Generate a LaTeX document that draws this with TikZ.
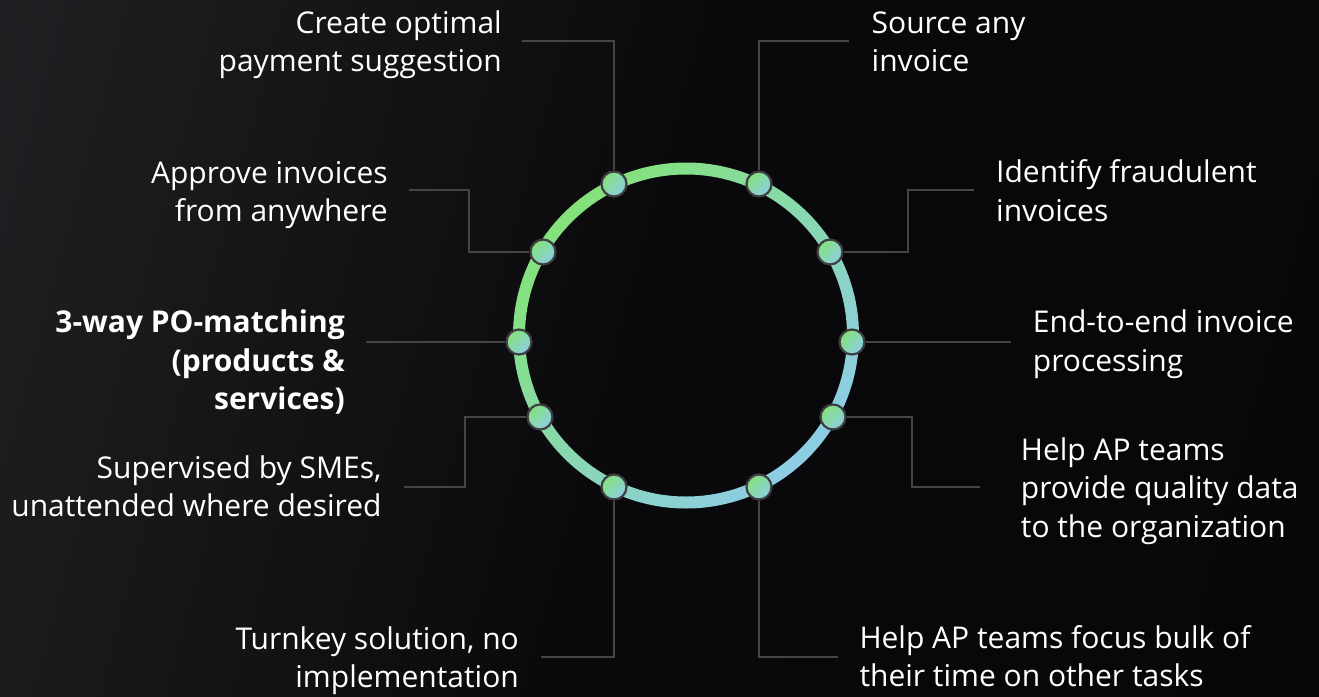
\documentclass[tikz,border=0pt]{standalone}
\usepackage{fontspec}
\setmainfont{Open Sans}
\definecolor{bgA}{HTML}{303034}
\definecolor{bgM}{HTML}{1C1C1F}
\definecolor{bgB}{HTML}{09090C}
\definecolor{bgC}{HTML}{060609}
\definecolor{ringG}{HTML}{84E27A}
\definecolor{ringB}{HTML}{8DCDE6}
\definecolor{conncol}{HTML}{454547}
\definecolor{dotborder}{HTML}{3E3E40}
\pgfdeclarehorizontalshading{bgshade}{100bp}{color(0bp)=(bgA); color(25bp)=(bgM); color(50bp)=(bgB); color(100bp)=(bgC)}
\tikzset{
  lbl/.style={text=white, inner sep=0pt, font=\fontsize{30}{38.5}\selectfont},
  lblL/.style={lbl, anchor=base east, align=right},
  lblR/.style={lbl, anchor=base west, align=left},
  conn/.style={draw=conncol, line width=2pt},
  ringdot/.style={circle, minimum size=25pt, inner sep=0pt, draw=dotborder, line width=2.2pt,
    top color=ringG, bottom color=ringB, shading angle=45},
}
\begin{document}
\begin{tikzpicture}[x=1pt,y=-1pt]
\useasboundingbox (0,0) rectangle (1319,696);
\shade[shading=bgshade, shading angle=-15] (0,0) rectangle (1319,696);

\coordinate (ctr) at (686,335.5);
\shade[even odd rule, top color=ringG, bottom color=ringB, shading angle=45]
  (ctr) circle (173) (ctr) circle (161);

% dots
\node[ringdot] (d1) at (614,184) {};
\node[ringdot] (d2) at (759,184) {};
\node[ringdot] (d3) at (543,252) {};
\node[ringdot] (d4) at (830,252) {};
\node[ringdot] (d5) at (519,342) {};
\node[ringdot] (d6) at (852,342) {};
\node[ringdot] (d7) at (540,417) {};
\node[ringdot] (d8) at (833,417) {};
\node[ringdot] (d9) at (614,487) {};
\node[ringdot] (d10) at (759,487) {};

% connector points
\coordinate (e1) at (522,41);
\coordinate (e2) at (849,41);
\coordinate (k3) at (469,190);
\coordinate (e3) at (409,190);
\coordinate (k4) at (908,190);
\coordinate (e4) at (974,190);
\coordinate (e5) at (366,342);
\coordinate (e6) at (1011,342);
\coordinate (k7) at (465,486.5);
\coordinate (e7) at (404,486.5);
\coordinate (k8) at (912,486.5);
\coordinate (e8) at (980,486.5);
\coordinate (e9) at (541,657);
\coordinate (e10) at (838,657);

\draw[conn] (d1) |- (e1);
\draw[conn] (d2) |- (e2);
\draw[conn] (d3) -| (k3) -- (e3);
\draw[conn] (d4) -| (k4) -- (e4);
\draw[conn] (d5) -- (e5);
\draw[conn] (d6) -- (e6);
\draw[conn] (d7) -| (k7) -- (e7);
\draw[conn] (d8) -| (k8) -- (e8);
\draw[conn] (d9) |- (e9);
\draw[conn] (d10) |- (e10);

% labels (anchored at the baseline of the last line)
\node[lblL] (t1) at (502,71.8) {Create optimal\\payment suggestion};
\node[lblR] (t2) at (871.5,71.8) {Source any\\invoice};
\node[lblL] (t3) at (388,221.5) {Approve invoices\\from anywhere};
\node[lblR] (t4) at (996,221.2) {Identify fraudulent\\invoices};
\node[lblL, font=\fontsize{30}{38.5}\selectfont\bfseries] (t5) at (345,409.7) {3-way PO-matching\\(products \&\\services)};
\node[lblR] (t6) at (1032.7,371.2) {End-to-end invoice\\processing};
\node[lblL] (t7) at (381.7,516.8) {Supervised by SMEs,\\unattended where desired};
\node[lblR] (t8) at (1020.7,537) {Help AP teams\\provide quality data\\to the organization};
\node[lblL] (t9) at (519,687.5) {Turnkey solution, no\\implementation};
\node[lblR] (t10) at (859.3,686.8) {Help AP teams focus bulk of\\their time on other tasks};
\end{tikzpicture}
\end{document}
